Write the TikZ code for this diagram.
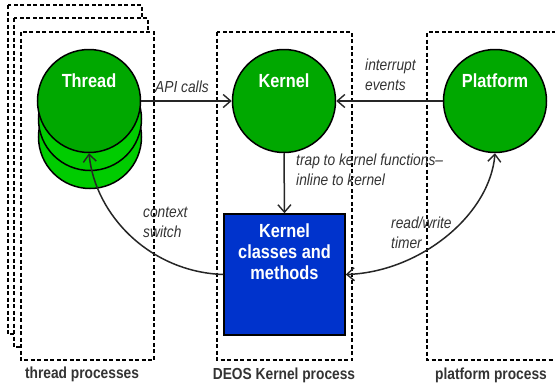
\documentclass[tikz,border=0pt]{standalone}
\usepackage{fontspec}
\setmainfont{Liberation Sans}[FakeStretch=0.86]
\usetikzlibrary{arrows.meta}
\definecolor{gtop}{RGB}{0,168,0}
\definecolor{glow}{RGB}{0,204,0}
\definecolor{kblue}{RGB}{0,51,204}
\definecolor{txt}{RGB}{51,51,51}
\tikzset{
  procbox/.style={draw=black, line width=1.1pt, dash pattern=on 4pt off 2.5pt},
  greencirc/.style={circle, draw=black, line width=1.5pt, fill=gtop, minimum size=103pt, inner sep=0pt},
  lowcirc/.style={greencirc, fill=glow},
  nodetext/.style={text=white, font=\fontsize{19}{21}\selectfont\bfseries, inner sep=0pt, align=center},
  lbl/.style={text=txt, font=\fontsize{16}{20}\selectfont\itshape, inner sep=0pt, align=left, anchor=base west},
  bottomlbl/.style={text=txt, font=\fontsize{16}{18}\selectfont\bfseries, inner sep=0pt, anchor=base},
  tip/.style={Straight Barb[length=7.5pt,width=13pt,line width=1.4pt]},
  conn/.style={draw=black!85, line width=1.5pt, -{Straight Barb[length=7.5pt,width=13pt,line width=1.4pt]}},
}
\begin{document}
\begin{tikzpicture}[x=1pt,y=-1pt]
\useasboundingbox (0,0) rectangle (555,383);
% thread process boxes
\draw[procbox] (8,5) rectangle (142,334);
\draw[procbox, fill=white] (14,18) rectangle (148,347);
\draw[procbox, fill=white] (21,32) rectangle (154,360);
% kernel process box
\draw[procbox] (217,32) rectangle (352,360);
% platform process box
\draw[procbox] (556,32) -- (427,32) -- (427,360) -- (556,360);
% thread circles
\node[lowcirc] (t3) at (90,137) {};
\node[lowcirc] (t2) at (90,119) {};
\node[greencirc] (thread) at (89,101) {};
\node[nodetext, anchor=base] (threadtxt) at (89,87) {Thread};
% kernel
\node[greencirc] (kernel) at (284,101) {};
\node[nodetext, anchor=base] (kerneltxt) at (284,87) {Kernel};
% platform
\node[greencirc] (platform) at (495,101) {};
\node[nodetext, anchor=base] (platformtxt) at (495,87) {Platform};
% kernel classes box
\node[draw=black, line width=1.5pt, fill=kblue, minimum width=121pt, minimum height=121pt, inner sep=0pt] (kbox) at (284.5,274.5) {};
\node[nodetext, anchor=base] (kboxtxt) at (284.5,279) {Kernel\\classes and\\methods};
% connectors
\draw[conn] (thread.east) -- (kernel.west);
\draw[conn] (platform.west) -- (kernel.east);
\draw[conn] (kernel.south) -- (kbox.north);
\draw[conn] (kbox.west) .. controls (150,272) and (95,215) .. (thread.south);
\draw[conn, {Straight Barb[length=7.5pt,width=13pt,line width=1.4pt]}-{Straight Barb[length=7.5pt,width=13pt,line width=1.4pt]}] (kbox.east) .. controls (420,272) and (490,215) .. (platform.south);
% labels
\node[lbl] (apilbl) at (155,92) {API calls};
\node[lbl] (intlbl) at (365,90) {interrupt\\events};
\node[lbl] (traplbl) at (296,185) {trap to kernel functions–\\inline to kernel};
\node[lbl] (ctxlbl) at (143,237) {context\\switch};
\node[lbl] (rwlbl) at (391,248) {read/write\\timer};
% bottom labels
\node[bottomlbl] (tplbl) at (82,378) {thread processes};
\node[bottomlbl] (dkplbl) at (284,379) {DEOS Kernel process};
\node[bottomlbl] (pplbl) at (491,379) {platform process};
\end{tikzpicture}
\end{document}
